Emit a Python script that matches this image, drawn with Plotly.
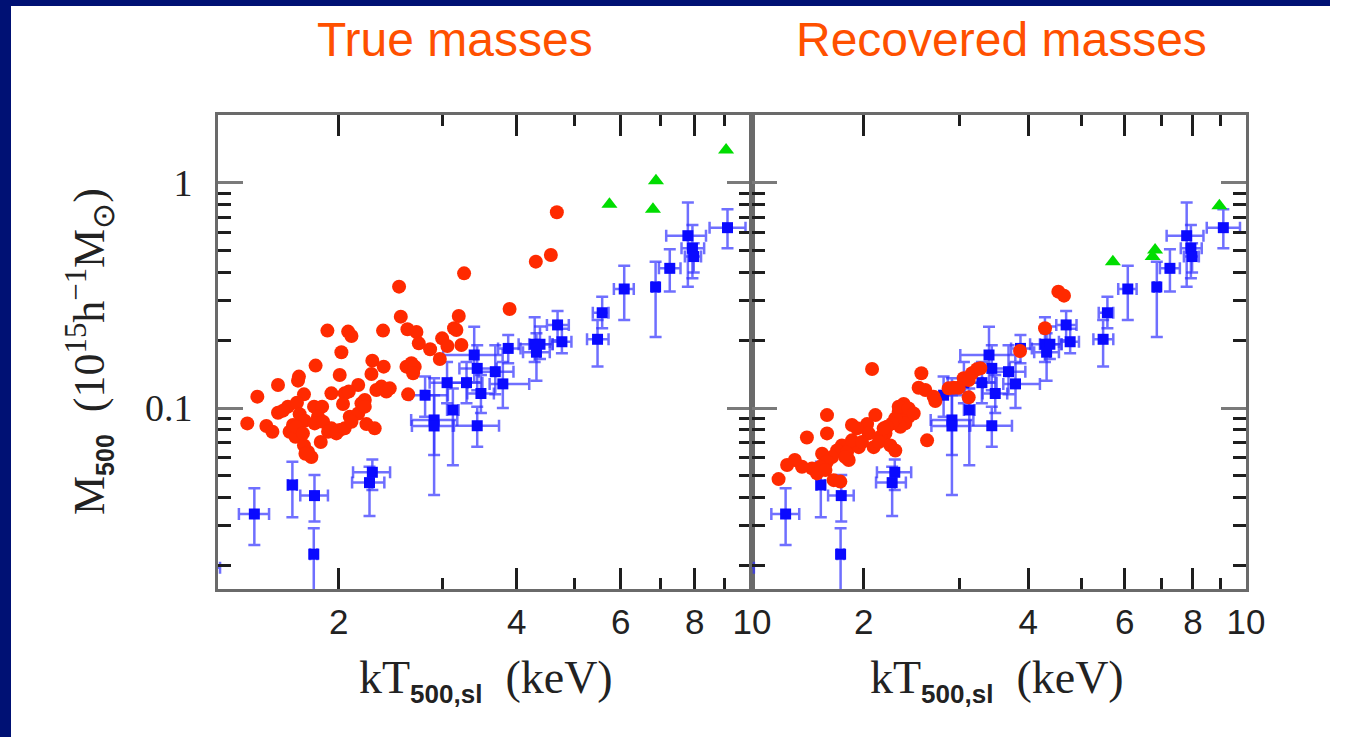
import math
import plotly.graph_objects as go

W, H = 1349, 737
# horizontal extent that the page is laid out to when displayed
DRAW_W = 1330

# ---------------- data ----------------
# Observed clusters (shown in both panels): kT and M500 with asymmetric errors
obs_kt    = [1.15, 1.44, 1.67, 1.82, 1.815, 2.28, 2.255, 2.90, 2.90, 3.12, 3.43, 3.39, 3.43, 3.29, 3.48, 3.68, 3.79,
             2.80, 3.05, 3.87, 4.29, 4.38, 4.32, 4.69, 4.77, 5.48, 5.58, 6.08, 6.87, 7.26, 7.79, 7.93, 7.97, 9.09]
obs_kt_lo = [1.06, 1.356, 1.64, 1.722, 1.79, 2.115, 2.107, 2.652, 2.66, 3.05, 3.133, 3.004, 3.2, 3.1, 3.3, 3.45, 3.6,
             2.64, 2.85, 3.72, 4.03, 4.2, 4.1, 4.5, 4.55, 5.26, 5.38, 5.84, 6.78, 6.96, 7.16, 7.6, 7.7, 8.477]
obs_kt_hi = [1.26, 1.525, 1.70, 1.918, 1.84, 2.443, 2.389, 3.174, 3.12, 3.19, 3.734, 3.787, 3.7, 3.5, 3.66, 3.95, 4.2,
             3.06, 3.3, 4.06, 4.60, 4.6, 4.55, 4.9, 4.95, 5.72, 5.72, 6.31, 6.95, 7.57, 8.36, 8.3, 8.2, 9.75]
obs_m     = [0.0195, 0.0338, 0.0455, 0.0408, 0.0224, 0.0518, 0.0466, 0.0885, 0.0832, 0.098, 0.0834, 0.172, 0.150,
             0.1296, 0.116, 0.145, 0.128, 0.114, 0.1296, 0.184, 0.192, 0.192, 0.177, 0.234, 0.197, 0.202, 0.265,
             0.338, 0.345, 0.4175, 0.583, 0.5125, 0.471, 0.633]
obs_m_lo  = [0.0175, 0.0246, 0.0327, 0.0313, 0.012, 0.0432, 0.0331, 0.0618, 0.0411, 0.0556, 0.0673, 0.13, 0.12,
             0.105, 0.095, 0.115, 0.10, 0.0915, 0.105, 0.158, 0.16, 0.165, 0.132, 0.20, 0.175, 0.153, 0.226,
             0.246, 0.207, 0.329, 0.346, 0.377, 0.40, 0.5125]
obs_m_hi  = [0.0215, 0.0440, 0.0577, 0.0504, 0.0292, 0.0591, 0.0548, 0.1355, 0.114, 0.122, 0.1014, 0.2298, 0.19,
             0.16, 0.14, 0.19, 0.16, 0.138, 0.16, 0.211, 0.253, 0.23, 0.215, 0.27, 0.225, 0.246, 0.312,
             0.429, 0.447, 0.507, 0.818, 0.651, 0.54, 0.764]

# Simulated clusters, true masses
true_kt = [3.259, 2.530, 2.547, 3.192, 1.914, 2.075, 2.102, 2.377, 2.614, 2.707, 2.732, 3.134, 3.163, 2.992,
           3.054, 3.225, 2.855, 2.965, 2.021, 1.828, 2.280, 2.383, 1.713, 1.707, 2.008, 2.272, 1.579, 1.747,
           1.944, 2.047, 2.158, 2.080, 2.316, 2.362, 2.408, 2.440, 2.604, 2.655, 2.689, 2.672, 2.621, 1.457,
           2.034, 2.185, 2.214, 1.641, 1.700, 1.579, 1.610, 1.718, 1.817, 1.875, 1.845, 1.401, 1.509, 1.545,
           1.674, 1.752, 1.821, 1.882, 1.944, 2.008, 2.088, 2.158, 2.228, 2.301, 1.652, 1.690, 1.747, 1.775,
           1.798, 1.757, 1.865, 1.919, 1.982, 2.047, 2.102, 2.214, 1.696, 1.740, 4.677, 4.309, 4.569, 3.891]
true_m = [0.3967, 0.3461, 0.2547, 0.2565, 0.2208, 0.2185, 0.2089, 0.2208, 0.2237, 0.2176, 0.1938, 0.2260,
          0.2223, 0.2040, 0.1887, 0.1906, 0.1823, 0.1651, 0.1768, 0.1543, 0.1623, 0.1527, 0.1379, 0.1323,
          0.1402, 0.1417, 0.1266, 0.1150, 0.1162, 0.1162, 0.1266, 0.1183, 0.1203, 0.1245, 0.1183, 0.1223,
          0.1527, 0.1580, 0.1527, 0.1426, 0.1150, 0.1123, 0.1041, 0.1049, 0.1085, 0.1014, 0.1055, 0.0953,
          0.0973, 0.0939, 0.1014, 0.1014, 0.0914, 0.0854, 0.0832, 0.0784, 0.0840, 0.0878, 0.0854, 0.0869,
          0.0812, 0.0798, 0.0914, 0.0946, 0.0848, 0.0812, 0.0784, 0.0745, 0.0682, 0.0637, 0.0605, 0.0626,
          0.0706, 0.0784, 0.0771, 0.0812, 0.0869, 0.1014, 0.0826, 0.0771, 0.741, 0.447, 0.4786, 0.2754]

# Simulated clusters, recovered masses
rec_kt = [2.072, 2.550, 2.521, 2.593, 2.685, 2.704, 2.860, 2.984, 3.047, 3.112, 3.156, 3.223, 3.268, 3.112,
          2.612, 2.367, 2.318, 2.417, 2.383, 2.334, 2.285, 2.254, 2.207, 2.192, 2.146, 2.101, 2.029, 1.904,
          1.945, 2.043, 2.086, 2.131, 2.238, 2.285, 1.714, 1.714, 1.575, 1.825, 1.788, 1.751, 1.865, 1.878,
          1.679, 1.714, 1.667, 1.609, 1.543, 1.497, 1.449, 1.398, 1.643, 1.703, 1.763, 1.813, 1.851, 1.959,
          1.904, 1.986, 2.318, 2.417, 2.469, 2.176, 2.921, 4.539, 4.648, 4.291, 3.863]
rec_m = [0.1491, 0.1426, 0.1231, 0.1203, 0.1123, 0.1074, 0.1223, 0.1231, 0.1355, 0.1332, 0.1426, 0.1486,
         0.1501, 0.1115, 0.0718, 0.1041, 0.0963, 0.0914, 0.0854, 0.0826, 0.0899, 0.0854, 0.0826, 0.0771,
         0.0745, 0.0930, 0.0848, 0.0840, 0.0812, 0.0771, 0.0670, 0.0706, 0.0682, 0.0647, 0.0930, 0.0771,
         0.0740, 0.0682, 0.0647, 0.0605, 0.0637, 0.0587, 0.0626, 0.0577, 0.0548, 0.0539, 0.0548, 0.0587,
         0.0558, 0.0483, 0.0512, 0.0530, 0.0478, 0.0471, 0.0605, 0.0670, 0.0718, 0.0706, 0.1014, 0.0996,
         0.0946, 0.0812, 0.1231, 0.3289, 0.3157, 0.2260, 0.1792]

# Most massive simulated clusters
big_true_kt = [5.74, 6.88, 6.80, 9.04]
big_true_m  = [0.804, 1.024, 0.764, 1.402]
big_rec_kt  = [5.71, 6.82, 6.75, 8.94]
big_rec_m   = [0.447, 0.504, 0.471, 0.793]

x_ticks = [2, 4, 6, 8, 10]
x_minor = [3, 5, 7, 9]
y_ticks = [0.1, 1]
y_minor = [0.02, 0.03, 0.04, 0.05, 0.06, 0.07, 0.08, 0.09, 0.2, 0.3, 0.4, 0.5, 0.6, 0.7, 0.8, 0.9]

# ---------------- styling ----------------
RED = "#ff2a00"
BLUE = "#0a0aff"
GREEN = "#00dd00"
TITLE_COL = "#ff5000"
NAVY = "#001174"
INK = "#1e1e1e"


def fx(px):
    return px / DRAW_W


def fy(py):
    return 1 - py / H


err_x_plus = [h - v for h, v in zip(obs_kt_hi, obs_kt)]
err_x_minus = [v - l for l, v in zip(obs_kt_lo, obs_kt)]
err_y_plus = [h - v for h, v in zip(obs_m_hi, obs_m)]
err_y_minus = [v - l for l, v in zip(obs_m_lo, obs_m)]

fig = go.Figure()

for xa, ya, rkt, rm, gkt, gm in [("x", "y", true_kt, true_m, big_true_kt, big_true_m),
                                  ("x2", "y2", rec_kt, rec_m, big_rec_kt, big_rec_m)]:
    fig.add_trace(go.Scatter(
        x=obs_kt, y=obs_m, mode="markers", xaxis=xa, yaxis=ya,
        marker=dict(symbol="square", size=11, color=BLUE),
        error_x=dict(type="data", symmetric=False, array=err_x_plus, arrayminus=err_x_minus,
                     color="rgba(50,50,255,0.7)", thickness=2.5, width=6),
        error_y=dict(type="data", symmetric=False, array=err_y_plus, arrayminus=err_y_minus,
                     color="rgba(50,50,255,0.7)", thickness=2.5, width=6),
        showlegend=False, hoverinfo="skip"))
    fig.add_trace(go.Scatter(
        x=rkt, y=rm, mode="markers", xaxis=xa, yaxis=ya,
        marker=dict(symbol="circle", size=14, color=RED),
        showlegend=False, hoverinfo="skip"))
    fig.add_trace(go.Scatter(
        x=gkt, y=gm, mode="markers", xaxis=xa, yaxis=ya,
        marker=dict(symbol="triangle-up", size=14, color=GREEN),
        showlegend=False, hoverinfo="skip"))

x_range = [math.log10(1.25), 1.0]
y_range = [math.log10(0.01569), math.log10(2.005)]

common_x = dict(
    type="log", range=x_range, showgrid=False, zeroline=False,
    showline=True, linecolor="#6a6a6a", linewidth=3, mirror="allticks",
    ticks="inside", ticklen=21, tickwidth=2.5, tickcolor=INK,
    tickvals=x_ticks, ticktext=[str(v) for v in x_ticks],
    tickfont=dict(family="Liberation Sans, Arial, sans-serif", size=35, color="#222222"),
    ticklabelstandoff=0,
    minor=dict(tickvals=x_minor, ticks="inside", ticklen=11, tickwidth=2.5,
               tickcolor=INK, showgrid=False),
)
common_y = dict(
    type="log", range=y_range, showgrid=False, zeroline=False,
    showline=True, linecolor="#6a6a6a", linewidth=3, mirror="allticks",
    ticks="inside", ticklen=25, tickwidth=3, tickcolor="#7a7a7a",
    tickvals=y_ticks, ticktext=["0.1", "1"],
    tickfont=dict(family="Liberation Serif, Times New Roman, serif", size=38, color="#222222"),
    ticklabelstandoff=15,
    minor=dict(tickvals=y_minor, ticks="inside", ticklen=13, tickwidth=2.5,
               tickcolor=INK, showgrid=False),
    domain=[fy(589), fy(115)],
)

fig.update_layout(
    width=W, height=H, autosize=False,
    margin=dict(l=0, r=0, t=0, b=0),
    paper_bgcolor="white", plot_bgcolor="white",
    xaxis=dict(common_x, domain=[fx(218), fx(752)], anchor="y"),
    xaxis2=dict(common_x, domain=[fx(752), fx(1246)], anchor="y2"),
    yaxis=dict(common_y, anchor="x"),
    yaxis2=dict(common_y, anchor="x2", showticklabels=False),
)

# slide frame (left and top bars)
fig.add_shape(type="rect", xref="paper", yref="paper", x0=0, x1=fx(11), y0=0, y1=1,
              fillcolor=NAVY, line=dict(width=0), layer="above")
fig.add_shape(type="rect", xref="paper", yref="paper", x0=0, x1=1, y0=fy(6), y1=1,
              fillcolor=NAVY, line=dict(width=0), layer="above")

title_font = dict(family="Liberation Sans, Arial, sans-serif", size=48, color=TITLE_COL)
fig.add_annotation(text="True masses", xref="paper", yref="paper", x=fx(455), y=fy(40),
                   xanchor="center", yanchor="middle", showarrow=False, font=title_font)
fig.add_annotation(text="Recovered masses", xref="paper", yref="paper", x=fx(1002), y=fy(40),
                   xanchor="center", yanchor="middle", showarrow=False, font=title_font)

serif = dict(family="Liberation Serif, Times New Roman, serif", size=46, color="#222222")
x_sub = "font-family:Liberation Sans, Arial, sans-serif;font-weight:bold;font-size:26px"
x_label = "kT<sub><span style='%s'>500,sl</span></sub>  (keV)" % x_sub
for cx in (486, 997):
    fig.add_annotation(text=x_label, xref="paper", yref="paper", x=fx(cx), y=fy(680),
                       xanchor="center", yanchor="middle", showarrow=False, font=serif)

y_sub = "font-family:Liberation Sans, Arial, sans-serif;font-weight:bold;font-size:25px"
y_label = ("M<sub><span style='%s'>500</span></sub>  (10<sup>15</sup>h<sup>−1</sup>M<sub>⊙</sub>)"
           % y_sub)
fig.add_annotation(text=y_label, xref="paper", yref="paper", x=fx(90), y=fy(352),
                   xanchor="center", yanchor="middle", showarrow=False, textangle=-90,
                   font=dict(serif, size=44))

fig.write_html("out.html")
